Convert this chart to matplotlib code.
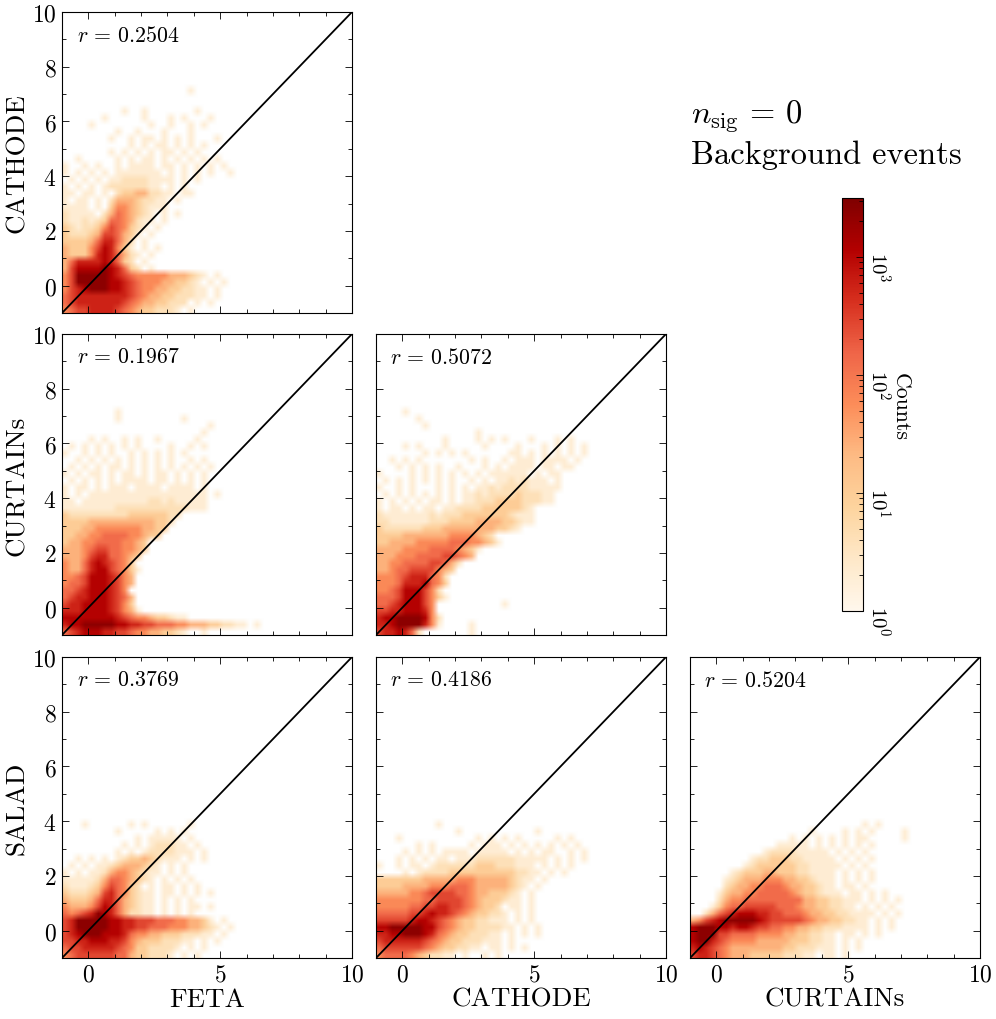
import numpy as np
import matplotlib
matplotlib.use('Agg')
import matplotlib.pyplot as plt
from matplotlib.colors import LogNorm
from matplotlib.ticker import MultipleLocator, LogLocator, NullFormatter
from matplotlib.transforms import ScaledTranslation

plt.rcParams['font.family'] = ['cmr10', 'DejaVu Sans']
plt.rcParams['mathtext.fontset'] = 'cm'
plt.rcParams['axes.formatter.use_mathtext'] = True
plt.rcParams['axes.unicode_minus'] = False

# counts, one char per 0.25 x 0.25 cell
# rows go top to bottom, the last row starts at y = -1, each row starts at x = -1
count_levels = {'.': 0, '1': 2, '2': 4, '3': 10, '4': 25, '5': 60, '6': 130,
                '7': 280, '8': 550, '9': 1100, 'A': 2400}

feta_cathode = [
    "...................1",
    "",
    "",
    ".........1..1.......1",
    "......1.....1...1.1...1",
    "....1........1..1..1.1",
    "........1..1...1...1",
    ".......1..1.11.1.1.1...1",
    "..........1.1.11.1.1.1",
    ".......1.1.1.1.11.1.1",
    "..1.....1.1.11.1.1.1.1.1",
    "1..1.1..1.1111.11.1.1.1.1",
    "1.1.1.1.1111111.1.1.1.1..1",
    ".1.1.1.1122221111.1.1",
    "1.1.1.122222211.1.1",
    "11.11.1.233442211.11",
    "1.11.1.244432211.1",
    "1111.1.355432111",
    "21111.24654321.1.1",
    "21121236654211.1",
    "3212235765321.1",
    "322234776431.1",
    "33334688642.1",
    "43335798531.1.1",
    "433358986421.1",
    "46888898632.1",
    "479999A98632.1",
    "57AAAAA987655555444321.1",
    "57AAAAA99876555443321.1.1",
    "5789AAA998765544332211.1",
    "6788888888765443322211.1",
    "6788888887654433222.1.1",
    "567788887654332221.1",
]

feta_curtains = [
    "........1",
    "........1.........1",
    "......................1",
    ".....................1",
    "....1.1..1.1..1.....1",
    ".1.1.1.1.1.1....1..1.1",
    "1..1.1.1..1.1.1.1.1",
    "..1.1.1.1.1.1.1.1..1.1",
    ".1.1.1.11.1.1.1.1.1.1.1",
    "1.1.11.1.11.1.11.1.1.1",
    ".1.1.1.1.1111.11.1.1.1",
    "1.11.1.111.1111.1111.1",
    "1.1.111111111111111111.1",
    "11.1111111111221211111",
    "1111111122222222222111",
    "322222222233333322",
    "33334444444444332",
    "3334455555554433",
    "334455666655433",
    "3445566665543",
    "4445677665543",
    "444578866543",
    "54468987653",
    "544689976531",
    "55679998754",
    "56679998754",
    "6678999875",
    "67889998764",
    "78899998753",
    "888999987541",
    "9999999987655433211",
    "899AAAAA99887766655444332211.1",
    "6789998877655443321..1",
]

cathode_curtains = [
    "....1",
    "......1",
    ".......1",
    "...............1",
    "..........1....1.1.1...1...1.1",
    "....1.1...1.....1....1...1.1.1.1",
    ".......1.1.1.1......11.1.1.1.1.1",
    "..1.1.1.......1.1..1.111.1111.1",
    "...1.1.1.1..1...1.1.1111.11.11",
    "1....1.1.1.1.1.1.111111.1.11",
    ".1.1.1.1.1.1..1.1.11212111.1",
    "1..1.1...1.1.1.1121222211111",
    ".1.1.1.1.1.1.11212222322211",
    "1.1.1.1.11.1.11222333322211",
    "1.11.1.11.11222233333321",
    "211111112122233333332111",
    "221111112223333444433211",
    "3222222333444444443321",
    "333344444445555432",
    "3344445555566655431",
    "4444555566665431",
    "444555666677654",
    "4455666677642",
    "445667777543",
    "55567888652",
    "55568889653",
    "5567999752",
    "66679997531",
    "667899975..........1",
    "778899985",
    "899AAAA952",
    "889AAAA851....1",
    "7889862.......1",
]

feta_salad = [
    "...1......1.1......1",
    "........1.....1.1.1",
    "...........1.11111.1",
    ".........1.1.122211.1",
    "........1.1.12222111.1",
    "..1.1.1.1233432111.1.1",
    ".1.1.1123444321.1.1",
    "1.1.11245543211.1.1",
    "11111246654321.1.1.1",
    "211123576532.1.11.1.1",
    "32223478653211.11.1.1.1",
    "43334688643211.1.1.1",
    "54445798643211.1.1.11.1",
    "65678A98642211.1.1.1",
    "78AAAAA9988777666554431.1",
    "78AAAAA99887766655544321.1",
    "789AAA99986554433322211.1",
    "77889998875433322211.1.1",
    "677888887653322221.1.1",
    "56777777664332221.1.1",
]

cathode_salad = [
    ".........1",
    "............1...........1",
    "...1...........1.1.1.1.....1.1",
    "......1.1.....1.111.1.1.1.1.1.1",
    "....1.1.1.1111.11111.1.1.11..1.1",
    "...1.1.1.11.11122222211111.1.1.1",
    "1..1.11.1222222333222111.1.1.1",
    "....1.1222233333333332211.1.1",
    "333333344444555444443211.1",
    "33334444555666544444321.1",
    "4444455677776654433321.1",
    "5555555667777654333211.1",
    "5555566778877654332.11.1",
    "66666778988765433221.1.1",
    "77777899876543322111.1.1",
    "99AAAAA99765433222211.1.1",
    "8899AAA986543322211.1.1.1",
    "7888888765433222111.1",
    "6777777654332211.11.1.1",
    "566665432211.1..1.1",
]

curtains_salad = [
    "..........................1.1",
    "..................1....1.1.1....1",
    "...............1.1.1.1.1.11.....1",
    ".............11111.1.1.1.1.1",
    "...........1222211111.1.1.1",
    ".........1223332211111.1.1.1",
    "........123333332211111.1.1",
    "......1233344333221111.1.1.1",
    ".....12344455544332111.1.1.1",
    ".....23445566654433211.11.1",
    "....1344556666654332111.11.1.1",
    "....2455666666666443322111.1.1.1",
    "...1356677777666544332211.1.1.1",
    "..24678999887766654433221111.1.1",
    "45789AAAAA98777776544332211.1.1",
    "9AAA99899877665544332221111.1.1",
    "9AAA776666555544332211.11.1.1",
    "9AA8765555444443332211.1.1",
    "8987654444444433222111.1.1",
    "7887654443333322211.11.1",
]

panels = [
    (0, 0, feta_cathode, '0.2504'),
    (1, 0, feta_curtains, '0.1967'),
    (1, 1, cathode_curtains, '0.5072'),
    (2, 0, feta_salad, '0.3769'),
    (2, 1, cathode_salad, '0.4186'),
    (2, 2, curtains_salad, '0.5204'),
]
row_names = ['CATHODE', 'CURTAINs', 'SALAD']
col_names = ['FETA', 'CATHODE', 'CURTAINs']


def to_counts(rows):
    grid = np.zeros((44, 44))
    for j, row in enumerate(rows[::-1]):
        for i, c in enumerate(row):
            grid[j, i] = count_levels[c]
    return np.ma.masked_equal(grid, 0)


W, H = 996, 1020
col_left = [62, 376, 690]
row_top = [13, 335, 658]
panel_w, panel_h = 290, 301
norm = LogNorm(vmin=1, vmax=3162)
cmap = plt.get_cmap('OrRd').copy()
cmap.set_bad('white')

fig = plt.figure(figsize=(W / 100, H / 100), dpi=100)


def add_px_axes(left, top, w, h):
    return fig.add_axes([left / W, 1 - (top + h) / H, w / W, h / H])


for r, c, rows, coef in panels:
    ax = add_px_axes(col_left[c], row_top[r], panel_w, panel_h)
    img = ax.imshow(to_counts(rows), origin='lower', extent=(-1, 10, -1, 10), aspect='auto',
                    cmap=cmap, norm=norm, interpolation='bilinear', interpolation_stage='rgba')
    ax.plot([-1, 10], [-1, 10], color='k', lw=1.3)
    ax.set_xlim(-1, 10)
    ax.set_ylim(-1, 10)
    ax.xaxis.set_major_locator(MultipleLocator(5))
    ax.xaxis.set_minor_locator(MultipleLocator(1))
    ax.yaxis.set_major_locator(MultipleLocator(2))
    ax.yaxis.set_minor_locator(MultipleLocator(1))
    ax.tick_params(which='both', direction='in', top=True, right=True, width=0.6)
    ax.tick_params(which='major', length=5, labelsize=17, pad=4)
    ax.tick_params(which='minor', length=3)
    ax.tick_params(labelbottom=(r == 2), labelleft=(c == 0))
    for s in ax.spines.values():
        s.set_linewidth(0.8)
    ax.text(0.05, 0.925, rf'$r\,=\,{coef}$', transform=ax.transAxes, fontsize=15.7,
            va='center', ha='left')
    if c == 0:
        ax.set_ylabel(row_names[r], fontsize=19.5)
        ax.yaxis.set_label_coords(-0.115, 0.5)
    if r == 2:
        ax.set_xlabel(col_names[c], fontsize=19.5, labelpad=1)

cax = add_px_axes(842, 199, 21, 413)
cb = fig.colorbar(img, cax=cax)
cb.outline.set_linewidth(0.8)
cax.yaxis.set_major_locator(LogLocator(base=10, numticks=6))
cax.yaxis.set_minor_locator(LogLocator(base=10, subs=np.arange(2, 10), numticks=6))
cax.yaxis.set_minor_formatter(NullFormatter())
cax.tick_params(which='both', direction='in', right=True, width=0.6)
cax.tick_params(which='major', length=5, labelsize=15, pad=3)
cax.tick_params(which='minor', length=3)
shift = ScaledTranslation(0, 6 / 100, fig.dpi_scale_trans)
for t in cax.get_yticklabels():
    t.set_rotation(270)
    t.set_va('top')
    t.set_transform(t.get_transform() + shift)
fig.text(901 / W, 1 - 407 / H, 'Counts', rotation=270, fontsize=15.7, ha='center', va='center')

fig.text(691 / W, 1 - 117 / H, r'$n_{\mathrm{sig}}\,=\,0$', fontsize=23.4, ha='left', va='center')
fig.text(691 / W, 1 - 155 / H, 'Background events', fontsize=23.4, ha='left', va='center')

fig.savefig('out.png', dpi=100)
